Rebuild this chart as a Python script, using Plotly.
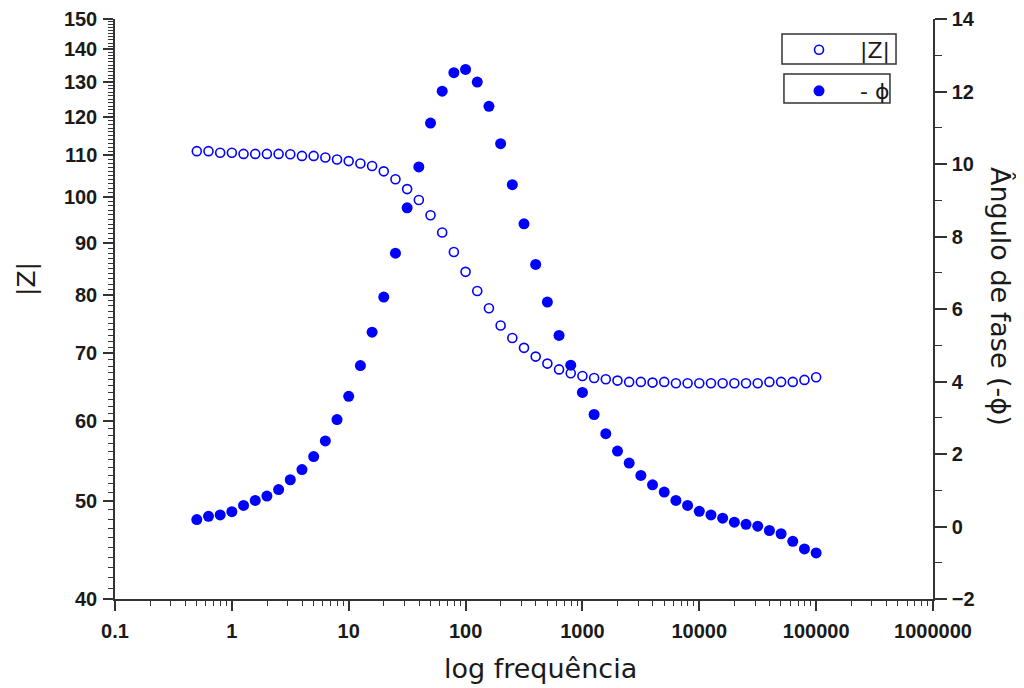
import plotly.graph_objects as go

# ---- data ----
freq = [0.5012, 0.631, 0.7943, 1.0, 1.259, 1.585, 1.995, 2.512, 3.162, 3.981,
        5.012, 6.31, 7.943, 10.0, 12.59, 15.85, 19.95, 25.12, 31.62, 39.81,
        50.12, 63.1, 79.43, 100.0, 125.9, 158.5, 199.5, 251.2, 316.2, 398.1,
        501.2, 631.0, 794.3, 1000.0, 1259.0, 1585.0, 1995.0, 2512.0, 3162.0, 3981.0,
        5012.0, 6310.0, 7943.0, 10000.0, 12589.0, 15849.0, 19953.0, 25119.0, 31623.0, 39811.0,
        50119.0, 63096.0, 79433.0, 100000.0]

z_mod = [111.0, 111.0, 110.6, 110.6, 110.3, 110.3, 110.3, 110.3, 110.2, 109.8,
         109.8, 109.4, 108.9, 108.5, 107.9, 107.3, 106.0, 104.1, 101.8, 99.3,
         95.9, 92.2, 88.2, 84.3, 80.7, 77.6, 74.6, 72.5, 70.9, 69.5,
         68.4, 67.5, 66.9, 66.5, 66.2, 66.0, 65.8, 65.6, 65.6, 65.5,
         65.6, 65.4, 65.4, 65.4, 65.4, 65.4, 65.4, 65.4, 65.4, 65.6,
         65.6, 65.6, 65.9, 66.3]

phase = [0.19, 0.28, 0.32, 0.41, 0.58, 0.72, 0.84, 1.02, 1.29, 1.57,
         1.93, 2.36, 2.95, 3.59, 4.44, 5.36, 6.33, 7.54, 8.79, 9.92,
         11.13, 12.01, 12.52, 12.61, 12.26, 11.59, 10.56, 9.43, 8.35, 7.23,
         6.19, 5.27, 4.45, 3.70, 3.09, 2.56, 2.08, 1.75, 1.41, 1.15,
         0.95, 0.72, 0.58, 0.42, 0.32, 0.23, 0.12, 0.06, 0.01, -0.11,
         -0.20, -0.41, -0.62, -0.73]

x_ticks = [0.1, 1, 10, 100, 1000, 10000, 100000, 1000000]
x_ticktext = ["0.1", "1", "10", "100", "1000", "10000", "100000", "1000000"]
y_ticks = [40, 50, 60, 70, 80, 90, 100, 110, 120, 130, 140, 150]
y2_ticks = [-2, 0, 2, 4, 6, 8, 10, 12, 14]

name_z = "|Z|"
name_phi = "- ϕ"
x_title = "log frequência"
y_title = "|Z|"
y2_title = "Ângulo de fase (-ϕ)"

BLUE = "#0000ff"
TICKFAMILY = "Liberation Sans"
TEXTFAMILY = "DejaVu Sans"
INK = "#1a1a1a"
AX = "#333333"

x_minor = [m * 10 ** e for e in range(-1, 6) for m in range(2, 10)]
y_minor = list(range(40, 151))

PAD = "\u00a0\u00a0\u00a0"

fig = go.Figure()
fig.add_trace(go.Scatter(
    x=freq, y=z_mod, mode="markers", name=PAD + name_z,
    marker=dict(symbol="circle-open", size=9, color=BLUE, line=dict(width=1.6, color=BLUE)),
    yaxis="y", legend="legend"))
fig.add_trace(go.Scatter(
    x=freq, y=phase, mode="markers", name=PAD + name_phi,
    marker=dict(symbol="circle", size=11, color=BLUE),
    yaxis="y2", legend="legend2"))

tickfont = dict(family=TICKFAMILY, size=20, color=INK, weight="bold")
legfont = dict(family=TEXTFAMILY, size=22, color=INK)

# the page body has an 8px margin, so the figure is drawn 8px right/down
fig.update_layout(
    width=1016, height=680,
    margin=dict(l=107, r=91, t=11, b=89, autoexpand=False),
    paper_bgcolor="white", plot_bgcolor="white",
    showlegend=True,
    font=dict(family=TEXTFAMILY, color=INK),
    xaxis=dict(
        type="log", range=[-1, 6], tickvals=x_ticks, ticktext=x_ticktext,
        ticks="outside", ticklen=10, tickwidth=1.5, tickcolor=AX,
        minor=dict(tickvals=x_minor, ticks="outside", ticklen=5, tickwidth=1.2, tickcolor=AX, showgrid=False),
        showline=True, linecolor=AX, linewidth=1.5, showgrid=False, zeroline=False,
        tickfont=tickfont, ticklabelstandoff=3, automargin=False,
    ),
    yaxis=dict(
        type="log", range=[1.60206, 2.17609], tickvals=y_ticks,
        ticktext=[str(v) for v in y_ticks],
        ticks="outside", ticklen=10, tickwidth=1.5, tickcolor=AX,
        minor=dict(tickvals=y_minor, ticks="outside", ticklen=5, tickwidth=1.2, tickcolor=AX, showgrid=False),
        showline=True, linecolor=AX, linewidth=1.5, showgrid=False, zeroline=False,
        tickfont=tickfont, ticklabelstandoff=2, automargin=False,
    ),
    yaxis2=dict(
        overlaying="y", side="right", anchor="x", range=[-2, 14], tickvals=y2_ticks,
        ticks="outside", ticklen=12, tickwidth=1.5, tickcolor=AX,
        minor=dict(dtick=1, tick0=-2, ticks="outside", ticklen=7, tickwidth=1.2, tickcolor=AX, showgrid=False),
        showline=True, linecolor=AX, linewidth=1.5, showgrid=False, zeroline=False,
        tickfont=tickfont, ticklabelstandoff=1, automargin=False,
    ),
    legend=dict(x=0.8362, y=0.9828, xanchor="left", yanchor="top", bgcolor="rgba(0,0,0,0)",
                borderwidth=0, font=legfont),
    legend2=dict(x=0.8362, y=0.912, xanchor="left", yanchor="top", bgcolor="rgba(0,0,0,0)",
                 borderwidth=0, font=legfont),
    shapes=[
        dict(type="rect", xref="paper", yref="paper", x0=0.8154, x1=0.9548, y0=0.9224, y1=0.9741,
             line=dict(color=AX, width=1.5)),
        dict(type="rect", xref="paper", yref="paper", x0=0.8178, x1=0.9474, y0=0.8552, y1=0.9052,
             line=dict(color=AX, width=1.5)),
    ],
    annotations=[
        dict(text=y_title, xref="paper", yref="paper", x=-0.1088, y=0.5517, showarrow=False,
             xanchor="center", yanchor="middle",
             textangle=-90, font=dict(family=TEXTFAMILY, size=25, color=INK)),
        dict(text=y2_title, xref="paper", yref="paper", x=1.0819, y=0.5207, showarrow=False,
             xanchor="center", yanchor="middle",
             textangle=90, font=dict(family=TEXTFAMILY, size=27, color=INK)),
        dict(text=x_title, xref="paper", yref="paper", x=0.5196, y=-0.119, showarrow=False,
             xanchor="center", yanchor="middle",
             font=dict(family=TEXTFAMILY, size=27, color=INK)),
    ],
)

fig.write_html("out.html")
